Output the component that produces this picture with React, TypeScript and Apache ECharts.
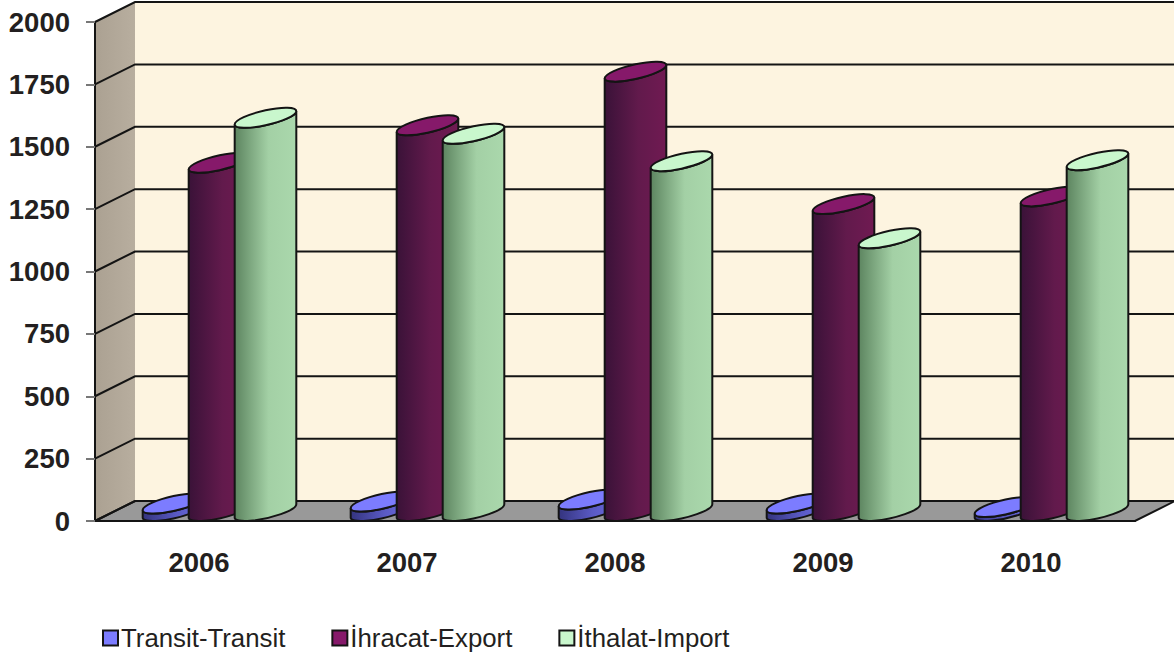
import React, { useEffect, useRef } from "react";
import * as echarts from "echarts";

const years = ["2006", "2007", "2008", "2009", "2010"];
const transit = [30, 38, 46, 30, 16];
const ihracat = [1396, 1546, 1761, 1230, 1261];
const ithalat = [1576, 1512, 1402, 1093, 1406];
const yTicks = [0, 250, 500, 750, 1000, 1250, 1500, 1750, 2000];
const seriesNames = ["Transit-Transit", "İhracat-Export", "İthalat-Import"];

const INK = "#231f20";
const LINE = "#141414";
const WALL_DX = 40;
const WALL_DY = 20;
const BAR_W = 46;
const BAR_DX = 41;
const BAR_DY = 20;
const BAR_SHIFT = 0;

const palettes = [
  { top: "#7c7cff", legend: "#7c7cff", stops: ["#34347e", "#5a5ac4", "#6c6ce0"] },
  { top: "#86196a", legend: "#86196a", stops: ["#3a1238", "#621a4c", "#701a52"] },
  { top: "#c9f7cd", legend: "#c9f7cd", stops: ["#5d8560", "#a3d0a5", "#aad8ac"] },
];

function arc(cx: number, cy: number, u: number[], v: number[], a: number, b: number) {
  const n = Math.ceil(Math.abs(b - a) / (Math.PI / 2));
  const d = (b - a) / n;
  const k = (4 / 3) * Math.tan(d / 4);
  let out = "";
  for (let i = 0; i < n; i++) {
    const t0 = a + i * d;
    const t1 = t0 + d;
    const p = (t: number) => [cx + u[0] * Math.cos(t) + v[0] * Math.sin(t), cy + u[1] * Math.cos(t) + v[1] * Math.sin(t)];
    const dp = (t: number) => [-u[0] * Math.sin(t) + v[0] * Math.cos(t), -u[1] * Math.sin(t) + v[1] * Math.cos(t)];
    const p0 = p(t0), p1 = p(t1), d0 = dp(t0), d1 = dp(t1);
    out += ` C${p0[0] + k * d0[0]} ${p0[1] + k * d0[1]} ${p1[0] - k * d1[0]} ${p1[1] - k * d1[1]} ${p1[0]} ${p1[1]}`;
  }
  return out;
}

function cylinderItem(seriesIndex: number) {
  return (_params: any, api: any) => {
    const cat = api.value(0);
    const val = api.value(1);
    const base = api.coord([cat, 0]);
    const top = api.coord([cat, val]);
    const cx = base[0] + (seriesIndex - 1) * BAR_W + BAR_DX / 2 + BAR_SHIFT;
    const yb = base[1] - BAR_DY / 2;
    const yt = top[1] - BAR_DY / 2;
    const u = [BAR_W / 2, 0];
    const v = [BAR_DX / 2, -BAR_DY / 2];
    const alpha = Math.atan2(BAR_DX, BAR_W);
    const R = Math.hypot(BAR_W / 2, BAR_DX / 2);
    const off = ((BAR_DY / 2) * (BAR_DX / 2)) / R;
    const body =
      `M${cx - R} ${yt + off} L${cx - R} ${yb + off}` +
      arc(cx, yb, u, v, Math.PI + alpha, 2 * Math.PI + alpha) +
      ` L${cx + R} ${yt - off}` +
      arc(cx, yt, u, v, alpha, -Math.PI + alpha) +
      " Z";
    const lid = `M${cx + R} ${yt - off}` + arc(cx, yt, u, v, alpha, 2 * Math.PI + alpha) + " Z";
    const pal = palettes[seriesIndex];
    return {
      type: "group",
      children: [
        {
          type: "path",
          shape: { pathData: body },
          style: {
            fill: new echarts.graphic.LinearGradient(0, 0, 1, 0, [
              { offset: 0, color: pal.stops[0] },
              { offset: 0.55, color: pal.stops[1] },
              { offset: 1, color: pal.stops[2] },
            ]),
            stroke: LINE,
            lineWidth: 2,
          },
        },
        { type: "path", shape: { pathData: lid }, style: { fill: pal.top, stroke: LINE, lineWidth: 2 } },
      ],
    };
  };
}

function wallsItem(params: any, api: any) {
  const tick = api.value(1);
  const y = api.coord([0, tick])[1];
  const cs = params.coordSys;
  const xl = cs.x;
  const xr = cs.x + cs.width;
  const yb = cs.y + cs.height;
  const yt = cs.y;
  const children: any[] = [];
  if (params.dataIndex === 0) {
    children.push(
      {
        type: "rect",
        shape: { x: xl + WALL_DX, y: yt - WALL_DY, width: cs.width, height: cs.height },
        style: { fill: "#fdf4e0" },
      },
      {
        type: "polygon",
        shape: { points: [[xl, yb], [xl + WALL_DX, yb - WALL_DY], [xl + WALL_DX, yt - WALL_DY], [xl, yt]] },
        style: {
          fill: new echarts.graphic.LinearGradient(0, 0, 1, 0, [
            { offset: 0, color: "#aba192" },
            { offset: 1, color: "#b8ae9f" },
          ]),
        },
      },
      {
        type: "polygon",
        shape: { points: [[xl, yb], [xl + WALL_DX, yb - WALL_DY], [xr + WALL_DX, yb - WALL_DY], [xr, yb]] },
        style: { fill: "#999999", stroke: LINE, lineWidth: 2 },
      }
    );
  }
  children.push({
    type: "polyline",
    shape: { points: [[xl, y], [xl + WALL_DX, y - WALL_DY], [xr + WALL_DX, y - WALL_DY]] },
    style: { fill: "none", stroke: LINE, lineWidth: 2 },
  });
  return { type: "group", children };
}

export default function App() {
  const ref = useRef<HTMLDivElement>(null);
  useEffect(() => {
    const chart = echarts.init(ref.current!, null, { renderer: "svg" });
    const cyl = (values: number[], i: number) => ({
      type: "custom",
      name: seriesNames[i],
      renderItem: cylinderItem(i),
      encode: { x: 0, y: 1 },
      itemStyle: { color: palettes[i].legend },
      z: 3 + i,
      data: values.map((v, c) => [c, v]),
    });
    chart.setOption({
      animation: false,
      backgroundColor: "#ffffff",
      textStyle: { fontFamily: "Liberation Sans" },
      grid: { left: 95, right: 39, top: 22, bottom: 137, containLabel: false },
      legend: {
        left: 97,
        top: 620,
        icon: "rect",
        itemWidth: 15,
        itemHeight: 15,
        itemGap: 46,
        selectedMode: false,
        textStyle: { fontFamily: "Liberation Sans", fontSize: 25.8, color: INK, padding: [0, 0, 0, -2] },
        data: seriesNames.map((name, i) => ({
          name,
          itemStyle: { color: palettes[i].legend, borderColor: LINE, borderWidth: 2 },
        })),
      },
      xAxis: {
        type: "category",
        data: years,
        boundaryGap: true,
        axisLine: { show: true, lineStyle: { color: LINE, width: 2 } },
        axisTick: { show: false },
        axisLabel: { margin: 27, fontFamily: "Liberation Sans", fontWeight: "bold", fontSize: 27.5, color: INK },
        z: 10,
      },
      yAxis: {
        type: "value",
        min: 0,
        max: 2000,
        interval: 250,
        axisLine: { show: true, lineStyle: { color: LINE, width: 2 } },
        axisTick: { show: true, length: 9, lineStyle: { color: "#777777", width: 2 } },
        axisLabel: {
          margin: 25,
          fontFamily: "Liberation Sans",
          fontWeight: "bold",
          fontSize: 27.5,
          color: INK,
          formatter: (v: number) => String(v),
        },
        splitLine: { show: false },
        z: 10,
      },
      series: [
        {
          type: "custom",
          name: "walls",
          renderItem: wallsItem,
          encode: { x: 0, y: 1 },
          z: 1,
          silent: true,
          data: yTicks.map((t) => [0, t]),
        },
        cyl(transit, 0),
        cyl(ihracat, 1),
        cyl(ithalat, 2),
      ],
    });
    return () => chart.dispose();
  }, []);
  return <div ref={ref} style={{ position: "fixed", left: 0, top: 0, width: 1174, height: 658 }} />;
}
